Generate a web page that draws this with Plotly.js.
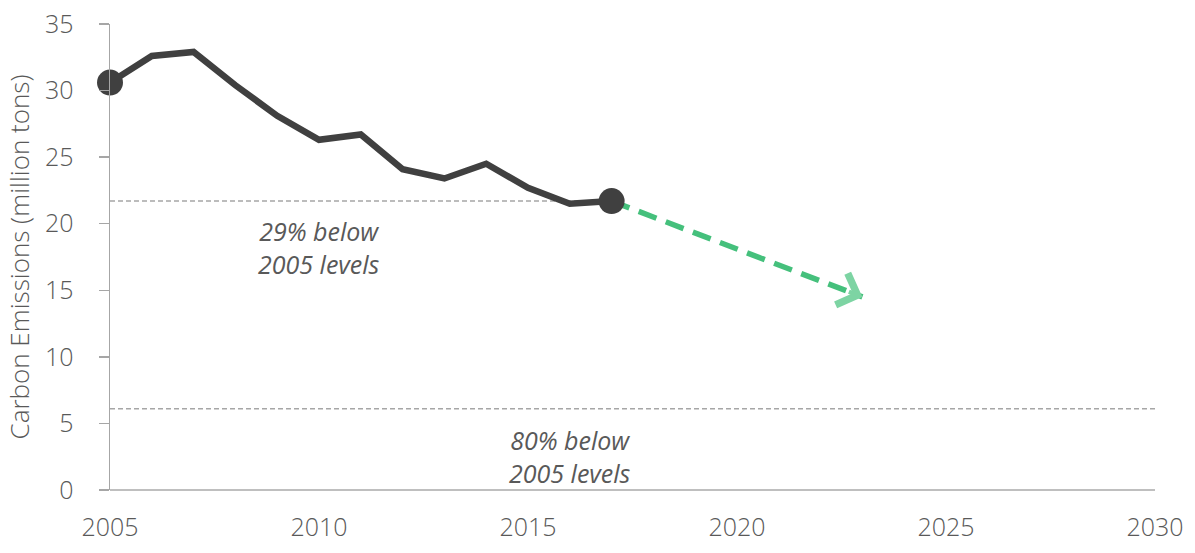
<!DOCTYPE html>
<html>
<head>
<meta charset="utf-8">
<script src="https://cdn.plot.ly/plotly-3.0.1.min.js"></script>
<style>html,body{margin:0;padding:0;background:#fff;}#chart{width:1195px;height:553px;}</style>
</head>
<body>
<div id="chart"></div>
<script>
// Historical emissions
const years = [2005, 2006, 2007, 2008, 2009, 2010, 2011, 2012, 2013, 2014, 2015, 2016, 2017];
const emissions = [30.6, 32.6, 32.9, 30.4, 28.1, 26.3, 26.7, 24.1, 23.4, 24.5, 22.7, 21.5, 21.7];
// Endpoints highlighted
const endYears = [2005, 2017];
const endValues = [30.6, 21.7];
// Projection arrow
const projYears = [2017, 2023];
const projValues = [21.7, 14.5];
// Reference target levels
const refLevels = [21.7, 6.1];
const refStart = [2005, 2005];
const refEnd = [2017, 2030];
const refLabels = ["29% below<br>2005 levels", "80% below<br>2005 levels"];
const refLabelX = [2010, 2016];
const refLabelY = [18.2, 2.5];
// Axis ticks
const xTicks = [2005, 2010, 2015, 2020, 2025, 2030];
const yTicks = [0, 5, 10, 15, 20, 25, 30, 35];

const gray = '#404040';
const textGray = '#595959';
const FONT = 'Open Sans, Noto Sans, sans-serif';

const shapes = refLevels.map((lv, i) => ({
  type: 'line', xref: 'x', yref: 'y', layer: 'below',
  x0: refStart[i], x1: refEnd[i], y0: lv, y1: lv,
  line: {color: '#a6a6a6', width: 1.5, dash: '5px,3px'}
}));

const annotations = refLabels.map((t, i) => ({
  x: refLabelX[i], y: refLabelY[i], xref: 'x', yref: 'y',
  text: '<i>' + t + '</i>', showarrow: false,
  font: {family: FONT, size: 25, color: textGray},
  align: 'center'
}));

// arrowhead for projection
const n = projYears.length - 1;
annotations.push({
  x: projYears[n], y: projValues[n], xref: 'x', yref: 'y',
  ax: projYears[n] - (projYears[n] - projYears[n-1]) * 0.06,
  ay: projValues[n] - (projValues[n] - projValues[n-1]) * 0.06,
  axref: 'x', ayref: 'y',
  showarrow: true, arrowhead: 4, arrowsize: 1.45, arrowwidth: 4.5,
  arrowcolor: '#7dd4a3', text: ''
});

const traces = [
  {
    x: projYears, y: projValues, mode: 'lines',
    line: {color: '#45c07c', width: 5.5, dash: '19px,10px'},
    hoverinfo: 'skip'
  },
  {
    x: years, y: emissions, mode: 'lines',
    line: {color: gray, width: 6.5},
    hoverinfo: 'skip'
  },
  {
    x: endYears, y: endValues, mode: 'markers',
    marker: {color: gray, size: 26},
    hoverinfo: 'skip', cliponaxis: false
  }
];

const layout = {
  width: 1195, height: 553,
  margin: {l: 110, r: 40, t: 24, b: 63},
  paper_bgcolor: '#fff', plot_bgcolor: '#fff',
  showlegend: false,
  font: {family: FONT, color: textGray},
  xaxis: {
    range: [2005, 2030], tickvals: xTicks, ticktext: xTicks.map(String),
    showgrid: false, zeroline: false, showline: false, ticks: '',
    tickfont: {size: 25, color: textGray, weight: 300}, ticklabelstandoff: 20
  },
  yaxis: {
    range: [0, 35], tickvals: yTicks, ticktext: yTicks.map(String),
    showgrid: false, zeroline: true, zerolinecolor: '#bfbfbf', zerolinewidth: 2,
    showline: true, linecolor: '#a6a6a6', linewidth: 1.5,
    ticks: 'outside', ticklen: 10, tickcolor: '#a6a6a6', tickwidth: 1.5,
    tickfont: {size: 25, color: textGray, weight: 300}, ticklabelstandoff: 20,
    title: {text: 'Carbon Emissions (million tons)', font: {size: 26, color: textGray, weight: 300}, standoff: 8}
  },
  shapes: shapes,
  annotations: annotations
};

Plotly.newPlot('chart', traces, layout, {displayModeBar: false, staticPlot: true});
</script>
</body>
</html>
